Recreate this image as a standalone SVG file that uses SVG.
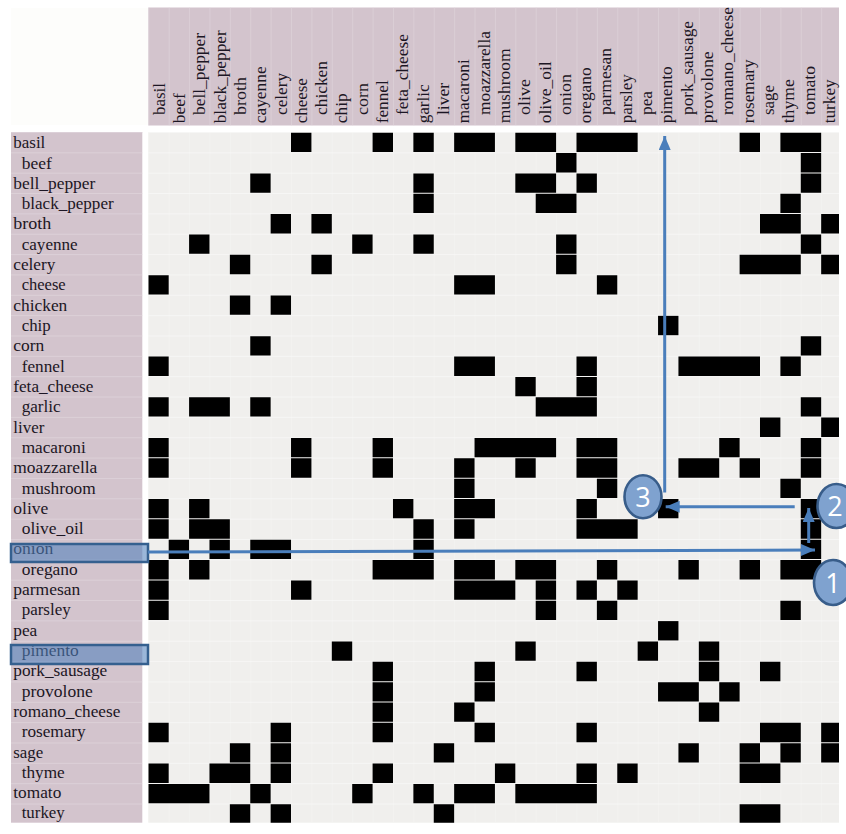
<svg xmlns="http://www.w3.org/2000/svg" width="846" height="834" viewBox="0 0 846 834">
<style>
text{font-family:"Liberation Serif","Times New Roman",serif;font-size:16px;fill:#1c1624}
.band{fill:#d3c4cd}
.hl{fill:#4f81bd;fill-opacity:.57;stroke:#35608f;stroke-width:2.5}
.wire{fill:none;stroke:#4a7ebb;stroke-width:3}
.badge{fill:#7fa2cf;stroke:#385d8a;stroke-width:2.6}
text.num{font-family:"Open Sans","Liberation Sans",sans-serif;font-size:27px;fill:#fff;text-anchor:middle}
</style>
<defs>
<pattern id="hdr" patternUnits="userSpaceOnUse" x="148.3" y="0" width="20.39" height="20.35"><path d="M0 0V20.35" stroke="#e2d8de" stroke-width="1" fill="none"/></pattern>
<pattern id="body" patternUnits="userSpaceOnUse" x="148.3" y="132" width="20.39" height="20.35"><path d="M0 0V20.35" stroke="#f6f5f4" stroke-width="1" fill="none"/><path d="M0 0H20.39" stroke="#fbfbfa" stroke-width="1.2" fill="none"/></pattern>
<pattern id="lab" patternUnits="userSpaceOnUse" x="0" y="132" width="20.35" height="20.35"><path d="M0 0H20.35" stroke="#e2d8de" stroke-width="1.2" fill="none"/></pattern>
<clipPath id="gridclip"><rect x="148.3" y="132" width="690.7" height="690.7"/></clipPath>
<marker id="ah" markerUnits="userSpaceOnUse" markerWidth="15" markerHeight="13" refX="14" refY="6" orient="auto"><path d="M0 0L14 6L0 12z" fill="#4a7ebb"/></marker>
</defs>
<rect width="846" height="834" fill="#fff"/>
<rect x="11" y="8" width="137" height="117" fill="#fdfdfb"/>
<g id="header">
<rect class="band" x="148.3" y="7.5" width="690.7" height="118"/>
<rect x="148.3" y="7.5" width="690.7" height="118" fill="url(#hdr)"/>
<text transform="translate(164.6 115) rotate(-90)" textLength="32" lengthAdjust="spacingAndGlyphs">basil</text>
<text transform="translate(184.9 123.3) rotate(-90)" textLength="30" lengthAdjust="spacingAndGlyphs">beef</text>
<text transform="translate(205.2 115) rotate(-90)" textLength="82" lengthAdjust="spacingAndGlyphs">bell_pepper</text>
<text transform="translate(225.5 123.3) rotate(-90)" textLength="93" lengthAdjust="spacingAndGlyphs">black_pepper</text>
<text transform="translate(245.8 115) rotate(-90)" textLength="38" lengthAdjust="spacingAndGlyphs">broth</text>
<text transform="translate(266.2 123.3) rotate(-90)" textLength="57" lengthAdjust="spacingAndGlyphs">cayenne</text>
<text transform="translate(286.5 115) rotate(-90)" textLength="42" lengthAdjust="spacingAndGlyphs">celery</text>
<text transform="translate(306.8 123.3) rotate(-90)" textLength="45" lengthAdjust="spacingAndGlyphs">cheese</text>
<text transform="translate(327.1 115) rotate(-90)" textLength="54" lengthAdjust="spacingAndGlyphs">chicken</text>
<text transform="translate(347.4 123.3) rotate(-90)" textLength="30" lengthAdjust="spacingAndGlyphs">chip</text>
<text transform="translate(367.7 115) rotate(-90)" textLength="32" lengthAdjust="spacingAndGlyphs">corn</text>
<text transform="translate(388 123.3) rotate(-90)" textLength="43" lengthAdjust="spacingAndGlyphs">fennel</text>
<text transform="translate(408.3 115) rotate(-90)" textLength="81" lengthAdjust="spacingAndGlyphs">feta_cheese</text>
<text transform="translate(428.6 123.3) rotate(-90)" textLength="39" lengthAdjust="spacingAndGlyphs">garlic</text>
<text transform="translate(448.9 115) rotate(-90)" textLength="32" lengthAdjust="spacingAndGlyphs">liver</text>
<text transform="translate(469.3 123.3) rotate(-90)" textLength="64" lengthAdjust="spacingAndGlyphs">macaroni</text>
<text transform="translate(489.6 115) rotate(-90)" textLength="84" lengthAdjust="spacingAndGlyphs">moazzarella</text>
<text transform="translate(509.9 123.3) rotate(-90)" textLength="75" lengthAdjust="spacingAndGlyphs">mushroom</text>
<text transform="translate(530.2 115) rotate(-90)" textLength="36" lengthAdjust="spacingAndGlyphs">olive</text>
<text transform="translate(550.5 123.3) rotate(-90)" textLength="62" lengthAdjust="spacingAndGlyphs">olive_oil</text>
<text transform="translate(570.8 115) rotate(-90)" textLength="41" lengthAdjust="spacingAndGlyphs">onion</text>
<text transform="translate(591.1 123.3) rotate(-90)" textLength="56" lengthAdjust="spacingAndGlyphs">oregano</text>
<text transform="translate(611.4 115) rotate(-90)" textLength="67" lengthAdjust="spacingAndGlyphs">parmesan</text>
<text transform="translate(631.7 123.3) rotate(-90)" textLength="49" lengthAdjust="spacingAndGlyphs">parsley</text>
<text transform="translate(652 115) rotate(-90)" textLength="24" lengthAdjust="spacingAndGlyphs">pea</text>
<text transform="translate(672.4 123.3) rotate(-90)" textLength="57" lengthAdjust="spacingAndGlyphs">pimento</text>
<text transform="translate(692.7 115) rotate(-90)" textLength="94" lengthAdjust="spacingAndGlyphs">pork_sausage</text>
<text transform="translate(713 123.3) rotate(-90)" textLength="72" lengthAdjust="spacingAndGlyphs">provolone</text>
<text transform="translate(733.3 115) rotate(-90)" textLength="108" lengthAdjust="spacingAndGlyphs">romano_cheese</text>
<text transform="translate(753.6 123.3) rotate(-90)" textLength="64" lengthAdjust="spacingAndGlyphs">rosemary</text>
<text transform="translate(773.9 115) rotate(-90)" textLength="30" lengthAdjust="spacingAndGlyphs">sage</text>
<text transform="translate(794.2 123.3) rotate(-90)" textLength="44" lengthAdjust="spacingAndGlyphs">thyme</text>
<text transform="translate(814.5 115) rotate(-90)" textLength="49" lengthAdjust="spacingAndGlyphs">tomato</text>
<text transform="translate(834.8 123.3) rotate(-90)" textLength="44" lengthAdjust="spacingAndGlyphs">turkey</text>
</g>
<g id="row-labels">
<rect class="band" x="11" y="132" width="131.3" height="690.7"/>
<rect x="11" y="132" width="131.3" height="690.7" fill="url(#lab)"/>
<text x="13.3" y="148.2" textLength="32" lengthAdjust="spacingAndGlyphs">basil</text>
<text x="21.7" y="168.5" textLength="30" lengthAdjust="spacingAndGlyphs">beef</text>
<text x="13.3" y="188.8" textLength="82" lengthAdjust="spacingAndGlyphs">bell_pepper</text>
<text x="21.7" y="209.1" textLength="92" lengthAdjust="spacingAndGlyphs">black_pepper</text>
<text x="13.3" y="229.4" textLength="38" lengthAdjust="spacingAndGlyphs">broth</text>
<text x="21.7" y="249.8" textLength="56" lengthAdjust="spacingAndGlyphs">cayenne</text>
<text x="13.3" y="270.1" textLength="42" lengthAdjust="spacingAndGlyphs">celery</text>
<text x="21.7" y="290.4" textLength="44" lengthAdjust="spacingAndGlyphs">cheese</text>
<text x="13.3" y="310.7" textLength="54" lengthAdjust="spacingAndGlyphs">chicken</text>
<text x="21.7" y="331" textLength="29" lengthAdjust="spacingAndGlyphs">chip</text>
<text x="13.3" y="351.3" textLength="31" lengthAdjust="spacingAndGlyphs">corn</text>
<text x="21.7" y="371.6" textLength="43" lengthAdjust="spacingAndGlyphs">fennel</text>
<text x="13.3" y="391.9" textLength="80" lengthAdjust="spacingAndGlyphs">feta_cheese</text>
<text x="21.7" y="412.2" textLength="39" lengthAdjust="spacingAndGlyphs">garlic</text>
<text x="13.3" y="432.5" textLength="31" lengthAdjust="spacingAndGlyphs">liver</text>
<text x="21.7" y="452.9" textLength="64" lengthAdjust="spacingAndGlyphs">macaroni</text>
<text x="13.3" y="473.2" textLength="84" lengthAdjust="spacingAndGlyphs">moazzarella</text>
<text x="21.7" y="493.5" textLength="74" lengthAdjust="spacingAndGlyphs">mushroom</text>
<text x="13.3" y="513.8" textLength="35" lengthAdjust="spacingAndGlyphs">olive</text>
<text x="21.7" y="534.1" textLength="62" lengthAdjust="spacingAndGlyphs">olive_oil</text>
<text x="13.3" y="554.4" textLength="40" lengthAdjust="spacingAndGlyphs">onion</text>
<text x="21.7" y="574.7" textLength="56" lengthAdjust="spacingAndGlyphs">oregano</text>
<text x="13.3" y="595" textLength="67" lengthAdjust="spacingAndGlyphs">parmesan</text>
<text x="21.7" y="615.3" textLength="49" lengthAdjust="spacingAndGlyphs">parsley</text>
<text x="13.3" y="635.6" textLength="24" lengthAdjust="spacingAndGlyphs">pea</text>
<text x="21.7" y="656" textLength="57" lengthAdjust="spacingAndGlyphs">pimento</text>
<text x="13.3" y="676.3" textLength="94" lengthAdjust="spacingAndGlyphs">pork_sausage</text>
<text x="21.7" y="696.6" textLength="71" lengthAdjust="spacingAndGlyphs">provolone</text>
<text x="13.3" y="716.9" textLength="107" lengthAdjust="spacingAndGlyphs">romano_cheese</text>
<text x="21.7" y="737.2" textLength="64" lengthAdjust="spacingAndGlyphs">rosemary</text>
<text x="13.3" y="757.5" textLength="30" lengthAdjust="spacingAndGlyphs">sage</text>
<text x="21.7" y="777.8" textLength="43" lengthAdjust="spacingAndGlyphs">thyme</text>
<text x="13.3" y="798.1" textLength="48" lengthAdjust="spacingAndGlyphs">tomato</text>
<text x="21.7" y="818.4" textLength="43" lengthAdjust="spacingAndGlyphs">turkey</text>
</g>
<g id="matrix">
<rect x="148.3" y="132" width="690.7" height="690.7" fill="#f0efed"/>
<rect x="148.3" y="132" width="690.7" height="690.7" fill="url(#body)"/>
<g clip-path="url(#gridclip)">
<g fill="#000" transform="translate(148.3 132.7) scale(20.39 20.35)">
<path d="M7 0h1v.95h-1zM11 0h1v.95h-1zM13 0h1v.95h-1zM15 0h2v.95h-2zM18 0h2v.95h-2zM21 0h3v.95h-3zM29 0h1v.95h-1zM31 0h2v.95h-2z"/>
<path d="M20 1h1v.95h-1zM32 1h1v.95h-1z"/>
<path d="M5 2h1v.95h-1zM13 2h1v.95h-1zM18 2h2v.95h-2zM21 2h1v.95h-1zM32 2h1v.95h-1z"/>
<path d="M13 3h1v.95h-1zM19 3h2v.95h-2zM31 3h1v.95h-1z"/>
<path d="M6 4h1v.95h-1zM8 4h1v.95h-1zM30 4h2v.95h-2zM33 4h1v.95h-1z"/>
<path d="M2 5h1v.95h-1zM10 5h1v.95h-1zM13 5h1v.95h-1zM20 5h1v.95h-1zM32 5h1v.95h-1z"/>
<path d="M4 6h1v.95h-1zM8 6h1v.95h-1zM20 6h1v.95h-1zM29 6h3v.95h-3zM33 6h1v.95h-1z"/>
<path d="M0 7h1v.95h-1zM15 7h2v.95h-2zM22 7h1v.95h-1z"/>
<path d="M4 8h1v.95h-1zM6 8h1v.95h-1z"/>
<path d="M25 9h1v.95h-1z"/>
<path d="M5 10h1v.95h-1zM32 10h1v.95h-1z"/>
<path d="M0 11h1v.95h-1zM15 11h2v.95h-2zM21 11h1v.95h-1zM26 11h4v.95h-4zM31 11h1v.95h-1z"/>
<path d="M18 12h1v.95h-1zM21 12h1v.95h-1z"/>
<path d="M0 13h1v.95h-1zM2 13h2v.95h-2zM5 13h1v.95h-1zM19 13h3v.95h-3zM32 13h1v.95h-1z"/>
<path d="M30 14h1v.95h-1zM33 14h1v.95h-1z"/>
<path d="M0 15h1v.95h-1zM7 15h1v.95h-1zM11 15h1v.95h-1zM16 15h4v.95h-4zM21 15h2v.95h-2zM28 15h1v.95h-1zM32 15h1v.95h-1z"/>
<path d="M0 16h1v.95h-1zM7 16h1v.95h-1zM11 16h1v.95h-1zM15 16h1v.95h-1zM18 16h1v.95h-1zM21 16h2v.95h-2zM26 16h2v.95h-2zM29 16h1v.95h-1zM32 16h1v.95h-1z"/>
<path d="M15 17h1v.95h-1zM22 17h1v.95h-1zM31 17h1v.95h-1z"/>
<path d="M0 18h1v.95h-1zM2 18h1v.95h-1zM12 18h1v.95h-1zM15 18h2v.95h-2zM21 18h1v.95h-1zM25 18h1v.95h-1zM32 18h1v.95h-1z"/>
<path d="M0 19h1v.95h-1zM2 19h2v.95h-2zM13 19h1v.95h-1zM15 19h1v.95h-1zM21 19h3v.95h-3zM32 19h1v.95h-1z"/>
<path d="M1 20h1v.95h-1zM3 20h1v.95h-1zM5 20h2v.95h-2zM13 20h1v.95h-1zM32 20h1v.95h-1z"/>
<path d="M0 21h1v.95h-1zM2 21h1v.95h-1zM11 21h3v.95h-3zM15 21h2v.95h-2zM18 21h2v.95h-2zM22 21h1v.95h-1zM26 21h1v.95h-1zM29 21h1v.95h-1zM31 21h2v.95h-2z"/>
<path d="M0 22h1v.95h-1zM7 22h1v.95h-1zM15 22h3v.95h-3zM19 22h1v.95h-1zM21 22h1v.95h-1zM23 22h1v.95h-1z"/>
<path d="M0 23h1v.95h-1zM19 23h1v.95h-1zM22 23h1v.95h-1zM31 23h1v.95h-1z"/>
<path d="M25 24h1v.95h-1z"/>
<path d="M9 25h1v.95h-1zM18 25h1v.95h-1zM24 25h1v.95h-1zM27 25h1v.95h-1z"/>
<path d="M11 26h1v.95h-1zM16 26h1v.95h-1zM21 26h1v.95h-1zM27 26h1v.95h-1zM30 26h1v.95h-1z"/>
<path d="M11 27h1v.95h-1zM16 27h1v.95h-1zM25 27h2v.95h-2zM28 27h1v.95h-1z"/>
<path d="M11 28h1v.95h-1zM15 28h1v.95h-1zM27 28h1v.95h-1z"/>
<path d="M0 29h1v.95h-1zM6 29h1v.95h-1zM11 29h1v.95h-1zM16 29h1v.95h-1zM21 29h1v.95h-1zM30 29h2v.95h-2zM33 29h1v.95h-1z"/>
<path d="M4 30h1v.95h-1zM6 30h1v.95h-1zM14 30h1v.95h-1zM26 30h1v.95h-1zM29 30h1v.95h-1zM31 30h1v.95h-1zM33 30h1v.95h-1z"/>
<path d="M0 31h1v.95h-1zM3 31h2v.95h-2zM6 31h1v.95h-1zM11 31h1v.95h-1zM17 31h1v.95h-1zM21 31h1v.95h-1zM23 31h1v.95h-1zM29 31h2v.95h-2z"/>
<path d="M0 32h3v.95h-3zM5 32h1v.95h-1zM10 32h1v.95h-1zM13 32h1v.95h-1zM15 32h2v.95h-2zM18 32h4v.95h-4z"/>
<path d="M4 33h1v.95h-1zM6 33h1v.95h-1zM14 33h1v.95h-1zM29 33h2v.95h-2z"/>
</g>
</g>
</g>
<g id="highlight-onion"><rect class="hl" x="11" y="544" width="137" height="18"/></g>
<g id="highlight-pimento"><rect class="hl" x="11" y="645" width="137" height="19"/></g>
<g id="connectors">
<path class="wire" d="M148 552L815 550" marker-end="url(#ah)"/>
<path class="wire" d="M808.7 543V508" marker-end="url(#ah)"/>
<path class="wire" d="M794.7 506.7H665.7" marker-end="url(#ah)"/>
<path class="wire" d="M664.7 492.5V136" marker-end="url(#ah)"/>
</g>
<g id="step-3"><ellipse class="badge" cx="643" cy="496.7" rx="18.5" ry="21.5"/><text class="num" x="643" y="506.5">3</text></g>
<g id="step-2"><ellipse class="badge" cx="836.5" cy="506" rx="19" ry="22"/><text class="num" x="835" y="516">2</text></g>
<g id="step-1"><ellipse class="badge" cx="833" cy="582.5" rx="19" ry="22.5"/><text class="num" x="833" y="592.5">1</text></g>
</svg>
